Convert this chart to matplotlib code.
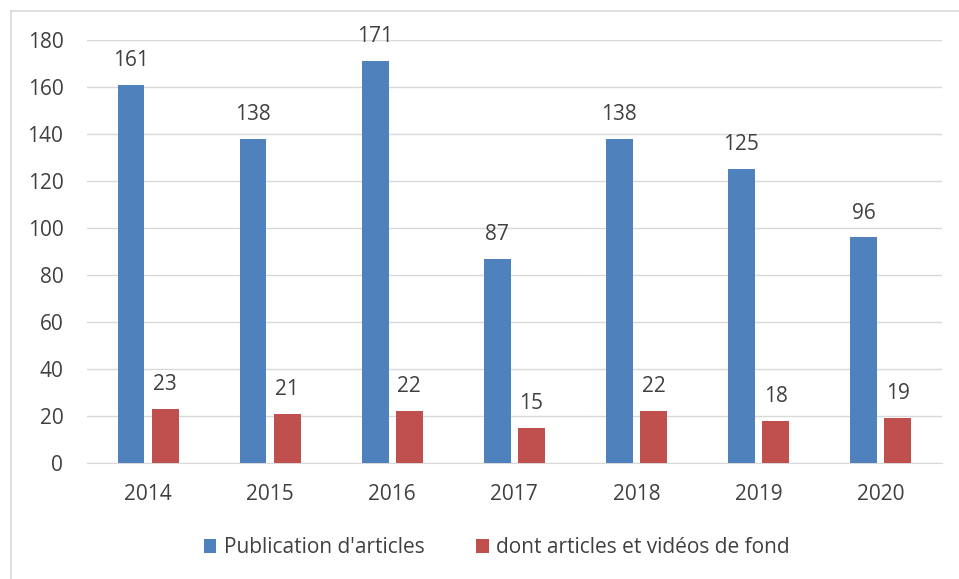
import numpy as np
import matplotlib.pyplot as plt
from matplotlib.lines import Line2D

years = ['2014', '2015', '2016', '2017', '2018', '2019', '2020']
publications = [161, 138, 171, 87, 138, 125, 96]
fond = [23, 21, 22, 15, 22, 18, 19]

plt.rcParams['font.family'] = ['Open Sans', 'DejaVu Sans']
txt = '#404040'
fs = 15

fig = plt.figure(figsize=(9.59, 5.79), dpi=100)
ax = fig.add_axes([0.0907, 0.2003, 0.8913, 0.7306])

x = np.arange(len(years))
w = 0.22
off = 0.14
b1 = ax.bar(x - off, publications, w, color='#4F81BD', label="Publication d'articles", zorder=3)
b2 = ax.bar(x + off, fond, w, color='#C0504D', label='dont articles et vidéos de fond', zorder=3)

for bars, vals in ((b1, publications), (b2, fond)):
    for r, v in zip(bars, vals):
        ax.annotate(str(v), (r.get_x() + r.get_width() / 2, v), xytext=(0, 10),
                    textcoords='offset points', ha='center', va='bottom',
                    fontsize=fs, color=txt)

ax.set_xlim(-0.5, len(years) - 0.5)
ax.set_ylim(0, 180)
ax.set_yticks(range(0, 181, 20))
ax.set_xticks(x)
ax.set_xticklabels(years)
ax.tick_params(axis='both', length=0, labelsize=fs, labelcolor=txt)
ax.tick_params(axis='x', pad=15)
ax.tick_params(axis='y', pad=17)
ax.grid(axis='y', color='#D9D9D9', linewidth=1, zorder=0)
for s in ['top', 'right', 'left']:
    ax.spines[s].set_visible(False)
ax.spines['bottom'].set_color('#D9D9D9')

leg = fig.legend(loc='center', bbox_to_anchor=(0.518, 0.054), ncol=2, frameon=False,
                 fontsize=fs, handlelength=0.6, handleheight=0.6, columnspacing=2.5,
                 handletextpad=0.35)
for t in leg.get_texts():
    t.set_color(txt)

# chart frame (only top and left edges are inside the picture)
fx, fy = 10.5 / 959, 1 - 11 / 579
fig.lines.append(Line2D([fx, 1], [fy, fy], transform=fig.transFigure, color='#D9D9D9', lw=1.2))
fig.lines.append(Line2D([fx, fx], [0, fy], transform=fig.transFigure, color='#D9D9D9', lw=1.2))

fig.savefig('out.png', dpi=100)
